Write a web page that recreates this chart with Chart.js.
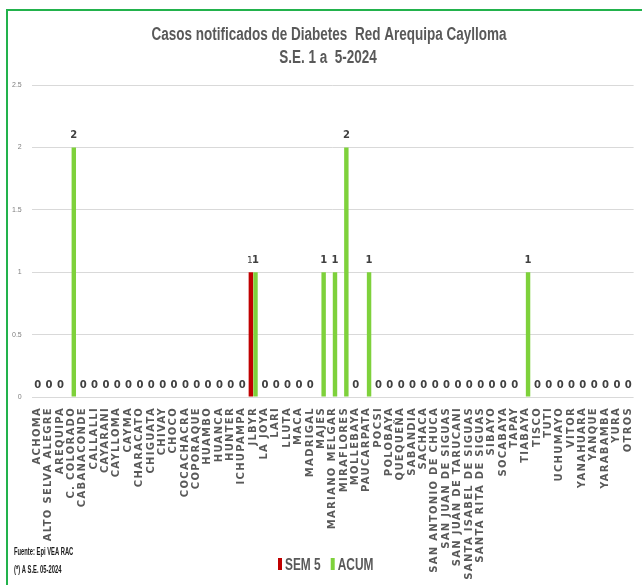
<!DOCTYPE html>
<html lang="es">
<head>
<meta charset="UTF-8">
<title>Casos notificados de Diabetes Red Arequipa Caylloma</title>
<script src="https://cdn.jsdelivr.net/npm/chart.js"></script>
<style>
    html, body { margin: 0; padding: 0; background: #fff; }
    .frame {
        position: absolute; left: 6px; top: 9px; width: 660px; height: 600px;
        border-top: 2px solid #22b24c; border-left: 2px solid #22b24c;
    }
    .holder { position: absolute; left: 0; top: 0; width: 642px; height: 585px; }
</style>
</head>
<body>
<div class="frame"></div>
<div class="holder"><canvas id="diabetesChart"></canvas></div>
<script>
    // categorias (distritos)
    const distritos = ['ACHOMA', 'ALTO SELVA ALEGRE', 'AREQUIPA', 'C. COLORADO', 'CABANACONDE', 'CALLALLI',
        'CAYARANI', 'CAYLLOMA', 'CAYMA', 'CHARACATO', 'CHIGUATA', 'CHIVAY', 'CHOCO', 'COCACHACRA', 'COPORAQUE',
        'HUAMBO', 'HUANCA', 'HUNTER', 'ICHUPAMPA', 'JLBYR', 'LA JOYA', 'LARI', 'LLUTA', 'MACA', 'MADRIGAL',
        'MAJES', 'MARIANO MELGAR', 'MIRAFLORES', 'MOLLEBAYA', 'PAUCARPATA', 'POCSI', 'POLOBAYA', 'QUEQUEÑA',
        'SABANDIA', 'SACHACA', 'SAN ANTONIO DE CHUCA', 'SAN JUAN DE SIGUAS', 'SAN JUAN DE TARUCANI',
        'SANTA ISABEL DE SIGUAS', 'SANTA RITA DE SIGUAS', 'SIBAYO', 'SOCABAYA', 'TAPAY', 'TIABAYA', 'TISCO',
        'TUTI', 'UCHUMAYO', 'VITOR', 'YANAHUARA', 'YANQUE', 'YARABAMBA', 'YURA', 'OTROS'];

    const sem5 = [0, 0, 0, 0, 0, 0, 0, 0, 0, 0, 0, 0, 0, 0, 0, 0, 0, 0, 0, 1, 0, 0, 0, 0, 0, 0, 0, 0, 0, 0,
        0, 0, 0, 0, 0, 0, 0, 0, 0, 0, 0, 0, 0, 0, 0, 0, 0, 0, 0, 0, 0, 0, 0];
    const acum = [0, 0, 0, 2, 0, 0, 0, 0, 0, 0, 0, 0, 0, 0, 0, 0, 0, 0, 0, 1, 0, 0, 0, 0, 0, 1, 1, 2, 0, 1,
        0, 0, 0, 0, 0, 0, 0, 0, 0, 0, 0, 0, 0, 1, 0, 0, 0, 0, 0, 0, 0, 0, 0];

    const yTicks = [0, 0.5, 1, 1.5, 2, 2.5];
    const tituloLineas = ['Casos notificados de Diabetes  Red Arequipa Caylloma', 'S.E. 1 a  5-2024'];
    const notas = ['Fuente: Epi VEA RAC', '(*) A S.E. 05-2024'];

    const sans = '"Liberation Sans", Arial, sans-serif';
    const gris = '#595959';
    const espaciado = '1.3px'; // letras separadas en las etiquetas del eje x

    // texto "angosto": no hay Arial Narrow, asi que se comprime en x
    function narrowText(ctx, text, x, y, sx, align) {
        const w = ctx.measureText(text).width * sx;
        let left = x;
        if (align === 'center') left = x - w / 2;
        ctx.save();
        ctx.translate(left, y);
        ctx.scale(sx, 1);
        ctx.textAlign = 'left';
        ctx.fillText(text, 0, 0);
        ctx.restore();
        return w;
    }

    // espaciado de letras solo al dibujar las etiquetas del eje x (capa z 0);
    // las del eje y van con z 1, despues de las barras, sin espaciado
    const spacing = {
        id: 'spacing',
        beforeDraw(chart) { chart.ctx.letterSpacing = espaciado; },
        beforeDatasetsDraw(chart) { chart.ctx.letterSpacing = '0px'; }
    };

    // etiquetas de valor encima de las barras (SEM 5 solo si no es cero)
    const valueLabels = {
        id: 'valueLabels',
        afterDatasetsDraw(chart) {
            const ctx = chart.ctx;
            ctx.save();
            ctx.letterSpacing = '0px';
            ctx.textAlign = 'center';
            ctx.textBaseline = 'bottom';
            chart.data.datasets.forEach((ds, i) => {
                const meta = chart.getDatasetMeta(i);
                meta.data.forEach((bar, j) => {
                    const v = ds.data[j];
                    if (i === 0 && v === 0) return;
                    ctx.fillStyle = '#404040';
                    ctx.font = i === 0 ? '9px "DejaVu Sans"' : 'bold 10px "DejaVu Sans"';
                    const x = i === 0 ? bar.x - 1 : (v === 0 ? bar.x - 2 : bar.x);
                    ctx.fillText(String(v), x, bar.y - 7);
                });
            });
            ctx.restore();
        }
    };

    // titulo, leyenda y notas al pie
    const extras = {
        id: 'extras',
        afterDraw(chart) {
            const ctx = chart.ctx;
            ctx.save();
            ctx.letterSpacing = '0px';
            ctx.textBaseline = 'middle';

            ctx.fillStyle = gris;
            ctx.font = 'bold 18px ' + sans;
            narrowText(ctx, tituloLineas[0], 329, 35, 0.75, 'center');
            narrowText(ctx, tituloLineas[1], 328, 58, 0.75, 'center');

            ctx.font = 'bold 10px ' + sans;
            ctx.fillStyle = '#1a1a1a';
            narrowText(ctx, notas[0], 14, 552, 0.58, 'left');
            narrowText(ctx, notas[1], 14, 570, 0.58, 'left');

            ctx.font = 'bold 17px ' + sans;
            let x = 278;
            chart.data.datasets.forEach(ds => {
                ctx.fillStyle = ds.backgroundColor;
                ctx.fillRect(x, 558, 4, 12);
                ctx.fillStyle = gris;
                const w = narrowText(ctx, ds.label, x + 7, 565, 0.7, 'left');
                x += 7 + w + 10;
            });
            ctx.restore();
        }
    };

    new Chart(document.getElementById('diabetesChart'), {
        type: 'bar',
        data: {
            labels: distritos,
            datasets: [
                { label: 'SEM 5', data: sem5, backgroundColor: '#c00000' },
                { label: 'ACUM', data: acum, backgroundColor: '#7ed13b' }
            ]
        },
        options: {
            responsive: true,
            maintainAspectRatio: false,
            animation: false,
            categoryPercentage: 0.82,
            barPercentage: 0.95,
            layout: { padding: { left: 2, right: 7, top: 85, bottom: 0 } },
            plugins: {
                legend: { display: false },
                tooltip: { enabled: false },
                title: { display: false }
            },
            scales: {
                x: {
                    afterFit(scale) { scale.height = 188; },
                    grid: { display: false },
                    border: { display: false },
                    ticks: {
                        autoSkip: false,
                        minRotation: 90,
                        maxRotation: 90,
                        padding: 2,
                        color: gris,
                        font: { family: '"DejaVu Sans"', size: 10, weight: 'bold' }
                    }
                },
                y: {
                    min: 0,
                    max: 2.5,
                    afterBuildTicks(axis) { axis.ticks = yTicks.map(v => ({ value: v })); },
                    grid: { color: '#d9d9d9', drawTicks: false },
                    border: { display: false },
                    ticks: {
                        z: 1,
                        padding: 10,
                        color: '#7f7f7f',
                        font: { family: sans, size: 7 },
                        callback: v => String(v)
                    }
                }
            }
        },
        plugins: [spacing, valueLabels, extras]
    });
</script>
</body>
</html>
